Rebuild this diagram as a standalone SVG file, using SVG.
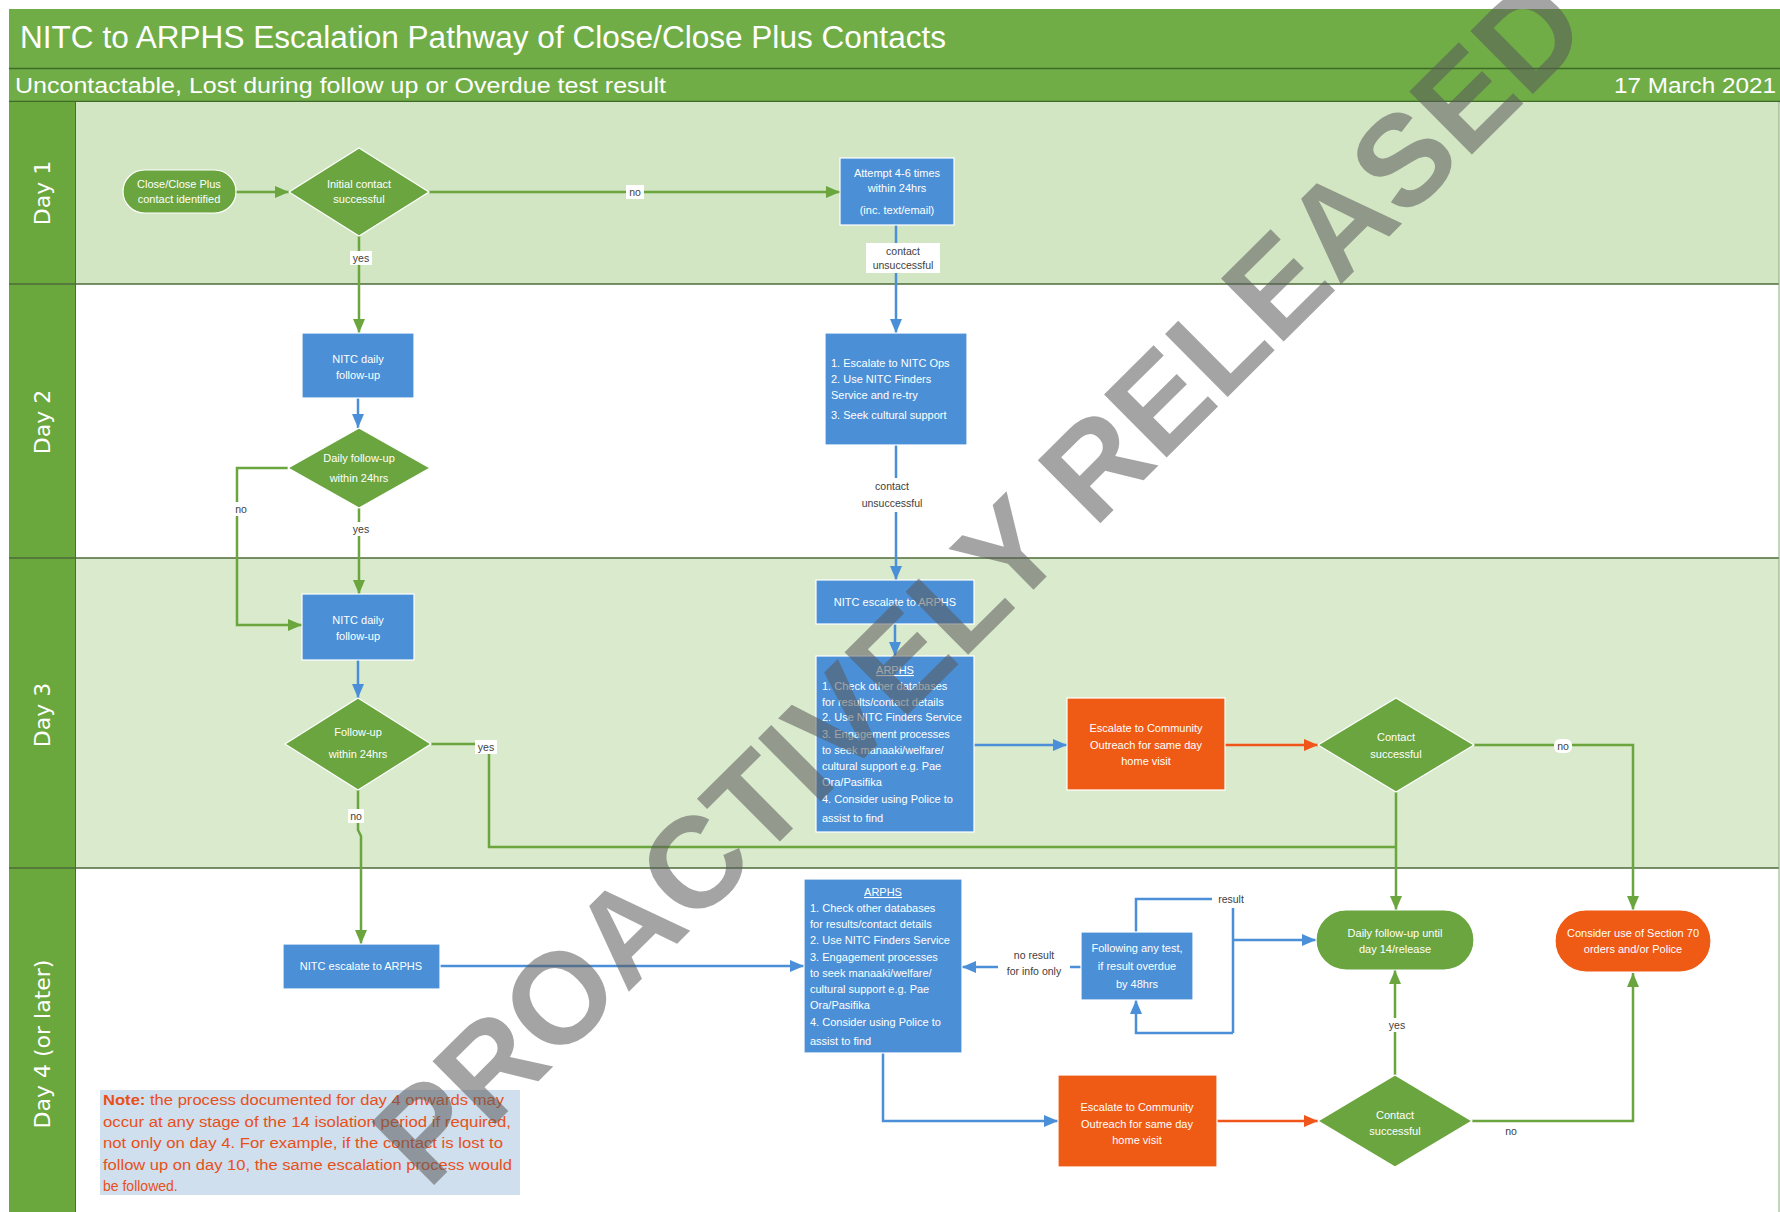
<svg xmlns="http://www.w3.org/2000/svg" width="1780" height="1212" viewBox="0 0 1780 1212">
<style>
text{font-family:"Liberation Sans",Arial,sans-serif}
.hd{fill:#fff}
.day{fill:#fff;font-family:"DejaVu Sans",Verdana,sans-serif;font-size:22px;text-anchor:middle}
.w{fill:#fff;font-size:11px;text-anchor:middle}
.wl{fill:#fff;font-size:11px}
.lb{fill:#404040;font-size:10.5px;text-anchor:middle}
.lbg{fill:#fff}
.gs{fill:#6ba53f;stroke:#fff;stroke-width:1.2}
.bs{fill:#4b8fd6;stroke:#fff;stroke-width:1.2}
.os{fill:#ef5a14;stroke:#fff;stroke-width:1.2}
.g{fill:none;stroke:#6aa53e;stroke-width:2.5;marker-end:url(#ag)}
.gn{fill:none;stroke:#6aa53e;stroke-width:2.5}
.b{fill:none;stroke:#4a8fd8;stroke-width:2.5;marker-end:url(#ab)}
.bn{fill:none;stroke:#4a8fd8;stroke-width:2.5}
.o{fill:none;stroke:#f0561a;stroke-width:2.5;marker-end:url(#ao)}
.sep{stroke:#4d6b3a;stroke-width:1.5}
.note{fill:#e8501a;font-size:14px}
</style>
<defs>
<marker id="ag" markerUnits="userSpaceOnUse" markerWidth="14" markerHeight="12" refX="14" refY="6" orient="auto"><path d="M0,0 L14,6 L0,12 z" fill="#6aa53e"/></marker>
<marker id="ab" markerUnits="userSpaceOnUse" markerWidth="14" markerHeight="12" refX="14" refY="6" orient="auto"><path d="M0,0 L14,6 L0,12 z" fill="#4a8fd8"/></marker>
<marker id="ao" markerUnits="userSpaceOnUse" markerWidth="14" markerHeight="12" refX="14" refY="6" orient="auto"><path d="M0,0 L14,6 L0,12 z" fill="#f0561a"/></marker>
</defs>
<rect x="0" y="0" width="1780" height="1212" fill="#fff"/>
<!-- header -->
<g id="header">
<rect x="9" y="9" width="1771" height="59" fill="#70ad47"/>
<rect x="9" y="69" width="1771" height="32" fill="#70ad47"/>
<line x1="9" y1="68.5" x2="1780" y2="68.5" stroke="#3f6a28" stroke-width="1.5"/>
<line x1="9" y1="101.5" x2="1780" y2="101.5" stroke="#3f6a28" stroke-width="1.5"/>
<text class="hd" x="20" y="48" font-size="31" textLength="926" lengthAdjust="spacingAndGlyphs">NITC to ARPHS Escalation Pathway of Close/Close Plus Contacts</text>
<text class="hd" x="15" y="93" font-size="22" textLength="651" lengthAdjust="spacingAndGlyphs">Uncontactable, Lost during follow up or Overdue test result</text>
<text class="hd" x="1776" y="93" font-size="22" text-anchor="end" textLength="162" lengthAdjust="spacingAndGlyphs">17 March 2021</text>
</g>
<!-- lanes -->
<g id="lanes">
<rect x="75" y="102" width="1704" height="182" fill="#d3e6c3"/>
<rect x="75" y="284" width="1704" height="274" fill="#ffffff"/>
<rect x="75" y="558" width="1704" height="310" fill="#d9eacd"/>
<rect x="75" y="868" width="1704" height="344" fill="#ffffff"/>
<rect x="9" y="102" width="66" height="1110" fill="#6aa73c"/>
<line class="sep" x1="9" y1="284" x2="1779" y2="284"/>
<line class="sep" x1="9" y1="558" x2="1779" y2="558"/>
<line class="sep" x1="9" y1="868" x2="1779" y2="868"/>
<line x1="75.5" y1="102" x2="75.5" y2="1212" stroke="#4d6b3a" stroke-width="1"/>
<line x1="1779" y1="102" x2="1779" y2="1212" stroke="#8aa878" stroke-width="1"/>
<text class="day" transform="translate(50,193) rotate(-90)">Day 1</text>
<text class="day" transform="translate(50,422) rotate(-90)">Day 2</text>
<text class="day" transform="translate(50,715) rotate(-90)">Day 3</text>
<text class="day" transform="translate(50,1044) rotate(-90)">Day 4 (or later)</text>
</g>
<!-- connectors -->
<g id="connectors">
<line class="g" x1="236" y1="192" x2="289" y2="192"/>
<line class="g" x1="429" y1="192" x2="840" y2="192"/>
<line class="g" x1="359" y1="236" x2="359" y2="333"/>
<line class="b" x1="896" y1="225" x2="896" y2="333"/>
<line class="b" x1="358" y1="398" x2="358" y2="428"/>
<polyline class="g" points="288,468 237,468 237,625 302,625"/>
<line class="g" x1="359" y1="508" x2="359" y2="594"/>
<line class="b" x1="896" y1="445" x2="896" y2="580"/>
<line class="b" x1="358" y1="660" x2="358" y2="698"/>
<polyline class="gn" points="431,744 489,744 489,847 1396,847"/>
<polyline class="g" points="358,790 358,830 361,836 361,944"/>
<line class="b" x1="895" y1="624" x2="895" y2="656"/>
<line class="b" x1="974" y1="745" x2="1067" y2="745"/>
<line class="o" x1="1225" y1="745" x2="1318" y2="745"/>
<polyline class="g" points="1474,745 1633,745 1633,910"/>
<line class="g" x1="1396" y1="792" x2="1396" y2="910"/>
<line class="b" x1="440" y1="966" x2="804" y2="966"/>
<line class="b" x1="1081" y1="967" x2="962" y2="967"/>
<polyline class="bn" points="1136,932 1136,899 1212,899"/>
<line class="bn" x1="1233" y1="908" x2="1233" y2="1033"/>
<line class="b" x1="1233" y1="940" x2="1316" y2="940"/>
<polyline class="b" points="1233,1033 1136,1033 1136,1000"/>
<polyline class="b" points="883,1053 883,1121 1058,1121"/>
<line class="o" x1="1217" y1="1121" x2="1318" y2="1121"/>
<line class="g" x1="1395" y1="1075" x2="1395" y2="970"/>
<polyline class="g" points="1472,1121 1633,1121 1633,973"/>
<!-- labels -->
<rect class="lbg" x="626" y="185" width="18" height="14"/><text class="lb" x="635" y="196">no</text>
<rect class="lbg" x="350" y="251" width="22" height="14"/><text class="lb" x="361" y="262">yes</text>
<rect class="lbg" x="866" y="243" width="74" height="30"/><text class="lb" x="903" y="255">contact</text><text class="lb" x="903" y="269">unsuccessful</text>
<rect class="lbg" x="233" y="502" width="16" height="14"/><text class="lb" x="241" y="513">no</text>
<rect class="lbg" x="350" y="522" width="22" height="14"/><text class="lb" x="361" y="533">yes</text>
<rect class="lbg" x="857" y="478" width="72" height="34"/><text class="lb" x="892" y="490">contact</text><text class="lb" x="892" y="507">unsuccessful</text>
<rect class="lbg" x="475" y="740" width="22" height="14"/><text class="lb" x="486" y="751">yes</text>
<rect class="lbg" x="348" y="809" width="16" height="14"/><text class="lb" x="356" y="820">no</text>
<rect class="lbg" x="1554" y="739" width="18" height="14" rx="6"/><text class="lb" x="1563" y="750">no</text>
<rect class="lbg" x="998" y="946" width="72" height="32"/><text class="lb" x="1034" y="959">no result</text><text class="lb" x="1034" y="975">for info only</text>
<rect class="lbg" x="1213" y="892" width="36" height="14"/><text class="lb" x="1231" y="903">result</text>
<rect class="lbg" x="1386" y="1018" width="22" height="14"/><text class="lb" x="1397" y="1029">yes</text>
<rect class="lbg" x="1502" y="1124" width="18" height="14"/><text class="lb" x="1511" y="1135">no</text>
</g>
<!-- nodes -->
<g id="n-start"><rect class="gs" x="123" y="170" width="113" height="43" rx="21.5"/><text class="w" x="179" y="188">Close/Close Plus</text><text class="w" x="179" y="203">contact identified</text></g>
<g id="n-initial"><polygon class="gs" points="359,148 429,192 359,236 289,192"/><text class="w" x="359" y="188">Initial contact</text><text class="w" x="359" y="203">successful</text></g>
<g id="n-attempt"><rect class="bs" x="840" y="158" width="114" height="67"/><text class="w" x="897" y="177">Attempt 4-6 times</text><text class="w" x="897" y="192">within 24hrs</text><text class="w" x="897" y="214">(inc. text/email)</text></g>
<g id="n-daily2"><rect class="bs" x="302" y="333" width="112" height="65"/><text class="w" x="358" y="363">NITC daily</text><text class="w" x="358" y="379">follow-up</text></g>
<g id="n-dec2"><polygon class="gs" points="359,428 430,468 359,508 288,468"/><text class="w" x="359" y="462">Daily follow-up</text><text class="w" x="359" y="482">within 24hrs</text></g>
<g id="n-escalate-ops"><rect class="bs" x="825" y="333" width="142" height="112"/><text class="wl" x="831" y="367">1. Escalate to NITC Ops</text><text class="wl" x="831" y="383">2. Use NITC Finders</text><text class="wl" x="831" y="399">Service and re-try</text><text class="wl" x="831" y="419">3. Seek cultural support</text></g>
<g id="n-daily3"><rect class="bs" x="302" y="594" width="112" height="66"/><text class="w" x="358" y="624">NITC daily</text><text class="w" x="358" y="640">follow-up</text></g>
<g id="n-dec3"><polygon class="gs" points="358,698 431,744 358,790 285,744"/><text class="w" x="358" y="736">Follow-up</text><text class="w" x="358" y="758">within 24hrs</text></g>
<g id="n-esc-arphs3"><rect class="bs" x="816" y="580" width="158" height="44"/><text class="w" x="895" y="606">NITC escalate to ARPHS</text></g>
<g id="n-arphs3"><rect class="bs" x="816" y="656" width="158" height="176"/><text class="w" x="895" y="674" text-decoration="underline">ARPHS</text><text class="wl" x="822" y="690">1. Check other databases</text><text class="wl" x="822" y="706">for results/contact details</text><text class="wl" x="822" y="721">2. Use NITC Finders Service</text><text class="wl" x="822" y="738">3. Engagement processes</text><text class="wl" x="822" y="754">to seek manaaki/welfare/</text><text class="wl" x="822" y="770">cultural support e.g. Pae</text><text class="wl" x="822" y="786">Ora/Pasifika</text><text class="wl" x="822" y="803">4. Consider using Police to</text><text class="wl" x="822" y="822">assist to find</text></g>
<g id="n-outreach3"><rect class="os" x="1067" y="698" width="158" height="92"/><text class="w" x="1146" y="732">Escalate to Community</text><text class="w" x="1146" y="749">Outreach for same day</text><text class="w" x="1146" y="765">home visit</text></g>
<g id="n-contact3"><polygon class="gs" points="1396,698 1474,745 1396,792 1318,745"/><text class="w" x="1396" y="741">Contact</text><text class="w" x="1396" y="758">successful</text></g>
<g id="n-esc-arphs4"><rect class="bs" x="283" y="944" width="157" height="45"/><text class="w" x="361" y="970">NITC escalate to ARPHS</text></g>
<g id="n-arphs4"><rect class="bs" x="804" y="879" width="158" height="174"/><text class="w" x="883" y="896" text-decoration="underline">ARPHS</text><text class="wl" x="810" y="912">1. Check other databases</text><text class="wl" x="810" y="928">for results/contact details</text><text class="wl" x="810" y="944">2. Use NITC Finders Service</text><text class="wl" x="810" y="961">3. Engagement processes</text><text class="wl" x="810" y="977">to seek manaaki/welfare/</text><text class="wl" x="810" y="993">cultural support e.g. Pae</text><text class="wl" x="810" y="1009">Ora/Pasifika</text><text class="wl" x="810" y="1026">4. Consider using Police to</text><text class="wl" x="810" y="1045">assist to find</text></g>
<g id="n-following"><rect class="bs" x="1081" y="932" width="112" height="68"/><text class="w" x="1137" y="952">Following any test,</text><text class="w" x="1137" y="970">if result overdue</text><text class="w" x="1137" y="988">by 48hrs</text></g>
<g id="n-dailyuntil"><rect class="gs" x="1316" y="910" width="158" height="60" rx="30"/><text class="w" x="1395" y="937">Daily follow-up until</text><text class="w" x="1395" y="953">day 14/release</text></g>
<g id="n-section70"><rect class="os" x="1555" y="910" width="156" height="62" rx="31"/><text class="w" x="1633" y="937">Consider use of Section 70</text><text class="w" x="1633" y="953">orders and/or Police</text></g>
<g id="n-outreach4"><rect class="os" x="1058" y="1075" width="159" height="92"/><text class="w" x="1137" y="1111">Escalate to Community</text><text class="w" x="1137" y="1128">Outreach for same day</text><text class="w" x="1137" y="1144">home visit</text></g>
<g id="n-contact4"><polygon class="gs" points="1395,1075 1472,1121 1395,1167 1318,1121"/><text class="w" x="1395" y="1119">Contact</text><text class="w" x="1395" y="1135">successful</text></g>
<g id="note">
<rect x="100" y="1090" width="420" height="105" fill="#c7d9ea" opacity="0.85"/>
<text class="note" x="103" y="1105" textLength="401" lengthAdjust="spacingAndGlyphs"><tspan font-weight="bold">Note:</tspan> the process documented for day 4 onwards may</text>
<text class="note" x="103" y="1127" textLength="408" lengthAdjust="spacingAndGlyphs">occur at any stage of the 14 isolation period if required,</text>
<text class="note" x="103" y="1148" textLength="400" lengthAdjust="spacingAndGlyphs">not only on day 4. For example, if the contact is lost to</text>
<text class="note" x="103" y="1170" textLength="409" lengthAdjust="spacingAndGlyphs">follow up on day 10, the same escalation process would</text>
<text class="note" x="103" y="1191">be followed.</text>
</g>
<g id="watermark">
<text transform="translate(978,580) rotate(-44.8)" x="0" y="46" text-anchor="middle" font-size="129" font-weight="bold" fill="#5a5a5a" opacity="0.55">PROACTIVELY RELEASED</text>
</g>
</svg>
